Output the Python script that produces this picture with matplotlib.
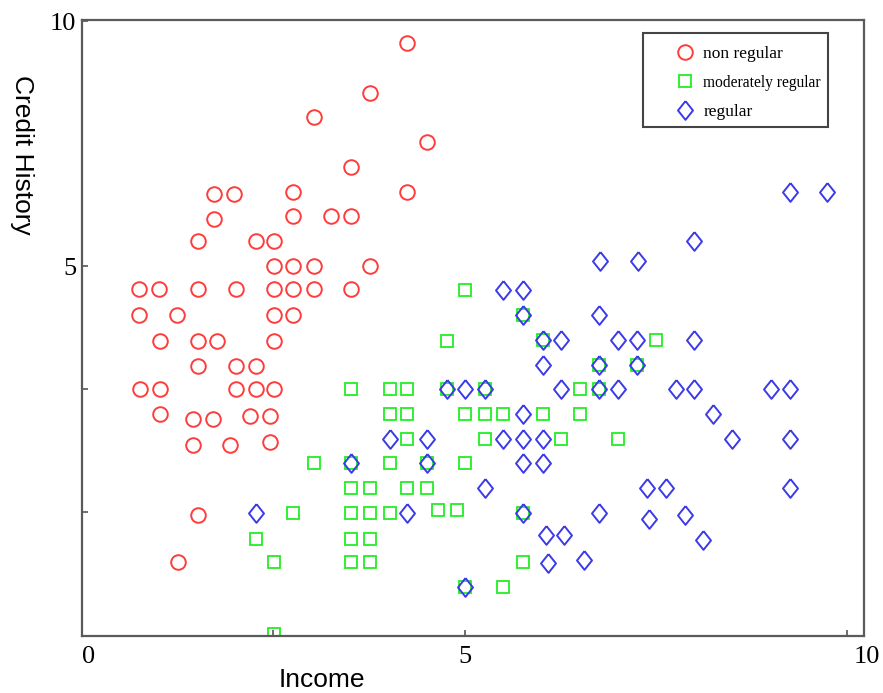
import matplotlib.pyplot as plt
from matplotlib.patches import Rectangle
from matplotlib.transforms import ScaledTranslation

# points (income, credit history)
non_regular_income = [4.25, 3.76, 3.03, 4.51, 3.52, 1.73, 1.99, 2.76, 4.25, 1.73,
                      2.76, 3.26, 3.52, 1.51, 2.27, 2.51, 2.51, 2.76, 3.03, 3.76,
                      0.74, 1.00, 1.51, 2.01, 2.51, 2.76, 3.03, 3.52,
                      0.74, 1.24, 2.51, 2.76,
                      1.02, 1.51, 1.77, 2.51,
                      1.51, 2.01, 2.27,
                      0.76, 1.02, 2.01, 2.27, 2.51,
                      1.02, 1.45, 1.71, 2.20, 2.46,
                      1.45, 1.94, 2.46,
                      1.51, 1.25]
non_regular_credit = [9.56, 8.54, 8.05, 7.54, 7.03, 6.48, 6.48, 6.51, 6.51, 5.96,
                      6.03, 6.03, 6.03, 5.52, 5.52, 5.52, 5.00, 5.00, 5.00, 5.00,
                      4.54, 4.54, 4.54, 4.54, 4.54, 4.54, 4.54, 4.54,
                      4.00, 4.00, 4.00, 4.00,
                      3.49, 3.49, 3.49, 3.49,
                      2.98, 2.98, 2.98,
                      2.50, 2.50, 2.50, 2.50, 2.50,
                      1.99, 1.89, 1.89, 1.96, 1.96,
                      1.36, 1.36, 1.43,
                      -0.07, -1.03]

mod_regular_income = [5.01, 5.76,
                      4.77, 6.02, 7.50,
                      6.75, 7.25,
                      3.52, 4.02, 4.25, 4.77, 5.26, 6.51, 6.75,
                      4.02, 4.25, 5.01, 5.26, 5.50, 6.02, 6.51,
                      4.25, 5.26, 6.26, 7.01,
                      3.03, 3.52, 4.02, 4.51, 5.01,
                      3.52, 3.76, 4.25, 4.51,
                      2.76, 3.52, 3.76, 4.02, 4.65, 4.90, 5.76,
                      2.27, 3.52, 3.76,
                      2.51, 3.52, 3.76, 5.76,
                      5.01, 5.50,
                      2.51]
mod_regular_credit = [4.52, 4.00,
                      3.49, 3.50, 3.50,
                      2.99, 2.99,
                      2.50, 2.50, 2.50, 2.50, 2.50, 2.50, 2.50,
                      1.99, 1.99, 1.99, 1.99, 1.99, 1.99, 1.99,
                      1.48, 1.48, 1.48, 1.48,
                      0.99, 0.99, 0.99, 0.99, 0.99,
                      0.48, 0.48, 0.48, 0.48,
                      -0.03, -0.03, -0.03, -0.03, 0.03, 0.03, -0.03,
                      -0.56, -0.56, -0.56,
                      -1.03, -1.03, -1.03, -1.03,
                      -1.54, -1.54,
                      -2.50]

regular_income = [9.25, 9.73, 8.00, 6.77, 7.27, 5.50, 5.76, 5.76, 6.75,
                  6.02, 6.26, 7.01, 7.25, 8.00,
                  6.02, 6.75, 7.25,
                  4.77, 5.01, 5.26, 6.26, 6.75, 7.01, 7.76, 8.00, 9.01, 9.25,
                  5.76, 8.25,
                  4.02, 4.51, 5.50, 5.76, 6.02, 8.49, 9.25,
                  3.52, 4.51, 5.76, 6.02,
                  5.26, 7.39, 7.63, 9.25,
                  2.27, 4.25, 5.76, 6.75, 7.41, 7.88,
                  6.06, 6.30, 8.11,
                  6.09, 6.56,
                  5.01]
regular_credit = [6.52, 6.52, 5.52, 5.11, 5.11, 4.52, 4.52, 4.00, 4.00,
                  3.50, 3.50, 3.50, 3.50, 3.50,
                  2.99, 2.99, 2.99,
                  2.50, 2.50, 2.50, 2.50, 2.50, 2.50, 2.50, 2.50, 2.50, 2.50,
                  1.99, 1.99,
                  1.48, 1.48, 1.48, 1.48, 1.48, 1.48, 1.48,
                  0.99, 0.99, 0.99, 0.99,
                  0.48, 0.48, 0.48, 0.48,
                  -0.03, -0.03, -0.03, -0.03, -0.14, -0.06,
                  -0.47, -0.47, -0.58,
                  -1.05, -0.98,
                  -1.54]

labels = ['non regular', 'moderately regular', 'regular']

RED = '#ff3c3c'
GREEN = '#22ee22'
BLUE = '#3a3ae8'
diamond = [(0, 1), (0.8, 0), (0, -1), (-0.8, 0), (0, 1)]

fig = plt.figure(figsize=(8.83, 6.93), dpi=100)
ax = fig.add_axes([0.0929, 0.0823, 0.8856, 0.8888])

ax.plot(non_regular_income, non_regular_credit, 'o', ms=10.5, mfc='none',
        mec=RED, mew=1.4, label=labels[0])
ax.plot(mod_regular_income, mod_regular_credit, 's', ms=8, mfc='none',
        mec=GREEN, mew=1.3, label=labels[1])
ax.plot(regular_income, regular_credit, marker=diamond, ls='none', ms=13.5,
        mfc='none', mec=BLUE, mew=1.4, label=labels[2])

ax.set_xlim(0.03, 10.22)
ax.set_ylim(-2.53, 10.02)

ax.set_xticks([0, 2.5, 5, 10])
ax.set_xticklabels(['0', '', '5', '10'])
ax.set_yticks([0, 2.5, 5, 10])
ax.set_yticklabels(['', '', '5', '10'])
ax.tick_params(direction='in', length=4, width=1.2, color='#555555',
               labelsize=19, pad=4)
ax.tick_params(axis='x', pad=7)
for t in ax.get_xticklabels() + ax.get_yticklabels():
    t.set_fontfamily('Liberation Serif')
# the 0 and 10 labels sit a little right of their ticks in the original
shifts = {'0': 0.07, '10': 0.2}
for t in ax.get_xticklabels():
    if t.get_text() in shifts:
        t.set_transform(t.get_transform() +
                        ScaledTranslation(shifts[t.get_text()], 0, fig.dpi_scale_trans))

for s in ax.spines.values():
    s.set_color('#5a5a5a')
    s.set_linewidth(1.6)

leg = ax.legend(loc='upper left', bbox_to_anchor=(0.758, 0.958),
                borderaxespad=0, borderpad=0, frameon=False,
                handlelength=1.2, handletextpad=0.45, labelspacing=0.73,
                prop={'family': 'Liberation Serif', 'size': 12.5})
leg.get_texts()[1].set_fontsize(11.2)
ax.add_patch(Rectangle((0.7174, 0.8263), 0.2366, 0.1526, transform=ax.transAxes,
                       fill=False, edgecolor='#444444', linewidth=1.5, zorder=6))

fig.text(322 / 883, 1 - 680 / 693, 'Income', ha='center', va='center',
         fontsize=19, family='Liberation Sans')
fig.text(22 / 883, 1 - 155 / 693, 'Credit History', ha='center', va='center',
         rotation=270, fontsize=19, family='Liberation Sans')

plt.savefig('out.png', dpi=100)
